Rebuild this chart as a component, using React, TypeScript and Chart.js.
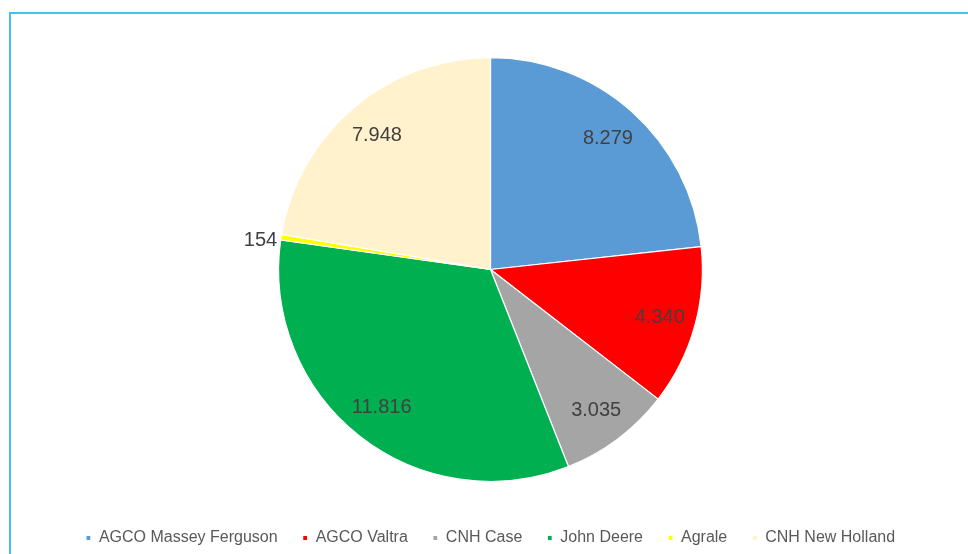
import React, { useEffect, useRef } from "react";
import { Chart, registerables } from "chart.js";

Chart.register(...registerables);

const categories: string[] = [
  "AGCO Massey Ferguson",
  "AGCO Valtra",
  "CNH Case",
  "John Deere",
  "Agrale",
  "CNH New Holland",
];
const values: number[] = [8279, 4340, 3035, 11816, 154, 7948];
const colors: string[] = ["#5B9BD5", "#FF0000", "#A5A5A5", "#00B050", "#FFFF00", "#FFF2CC"];

const FONT = "'Liberation Sans', Arial, sans-serif";

function fmt(n: number): string {
  return String(Math.round(n)).replace(/\B(?=(\d{3})+(?!\d))/g, ".");
}

const pieLabels = {
  id: "pieLabels",
  afterDatasetsDraw(chart: any) {
    const meta = chart.getDatasetMeta(0);
    const data = chart.data.datasets[0].data as number[];
    const total = data.reduce((a: number, b: number) => a + b, 0);
    const ctx = chart.ctx;
    ctx.save();
    ctx.font = `20px ${FONT}`;
    ctx.fillStyle = "#404040";
    ctx.textBaseline = "middle";
    meta.data.forEach((arc: any, i: number) => {
      const p = arc.getProps(["x", "y", "startAngle", "endAngle", "outerRadius"], true);
      const mid = (p.startAngle + p.endAngle) / 2;
      const frac = data[i] / total;
      if (frac < 0.03) {
        const r = p.outerRadius + 4;
        ctx.textAlign = "right";
        ctx.fillText(fmt(data[i]), p.x + Math.cos(mid) * r, p.y + Math.sin(mid) * r + 4);
      } else {
        const r = p.outerRadius * 0.83;
        ctx.textAlign = "center";
        ctx.fillText(fmt(data[i]), p.x + Math.cos(mid) * r, p.y + Math.sin(mid) * r);
      }
    });
    ctx.restore();
  },
};

export default function App() {
  const ref = useRef<HTMLCanvasElement | null>(null);
  useEffect(() => {
    if (!ref.current) return;
    const chart = new Chart(ref.current, {
      type: "pie",
      data: {
        labels: categories,
        datasets: [
          {
            data: values,
            backgroundColor: colors,
            borderColor: "#ffffff",
            borderWidth: 1.2,
          },
        ],
      },
      options: {
        animation: false,
        responsive: false,
        maintainAspectRatio: false,
        layout: { padding: { top: 57, bottom: 0, left: 13, right: 0 } },
        plugins: {
          tooltip: { enabled: false },
          legend: {
            position: "bottom",
            title: {
              display: true,
              text: "",
              font: { size: 10, lineHeight: 1 },
              padding: { top: 7, bottom: 6 },
            },
            labels: {
              usePointStyle: true,
              pointStyle: "rect",
              boxWidth: 5,
              boxHeight: 5,
              padding: 25,
              color: "#595959",
              font: { family: FONT, size: 16 },
            },
          },
        },
      },
      plugins: [pieLabels],
    });
    return () => chart.destroy();
  }, []);
  return (
    <div
      style={{
        position: "fixed",
        left: 0,
        top: 0,
        width: 968,
        height: 554,
        overflow: "hidden",
        background: "#ffffff",
      }}
    >
      <div
        style={{
          position: "absolute",
          left: 9,
          top: 12,
          width: 2000,
          height: 2000,
          borderLeft: "2px solid #3FC3F2",
          borderTop: "2px solid #3FC3F2",
        }}
      />
      <canvas
        ref={ref}
        width={968}
        height={556}
        style={{ position: "absolute", left: 0, top: 0, width: 968, height: 556 }}
      />
    </div>
  );
}
